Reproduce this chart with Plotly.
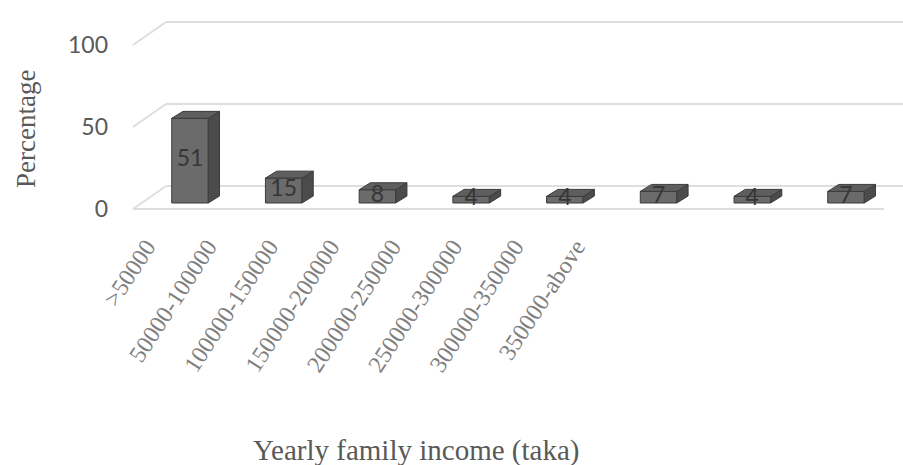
import plotly.graph_objects as go

# ---------------- data ----------------
categories = [">50000", "50000-100000", "100000-150000", "150000-200000",
              "200000-250000", "250000-300000", "300000-350000", "350000-above"]
percentages = [51, 15, 8, 4, 4, 7, 4, 7]
y_ticks = [0, 50, 100]

# ---------------- geometry helpers ----------------
W, H = 903, 465
def px(x):
    return x / W
def py(y):
    return 1 - y / H

S = 1.64          # pixels per percentage unit on the walls
SB = 1.66         # pixels per unit for the bars
FRONT_ZERO = 209  # pixel row of the front floor edge
BACK_ZERO = 186   # pixel row of the back wall floor
BAR_ZERO = 203    # pixel row of the bar bases
DEPTH = (FRONT_ZERO - BACK_ZERO) / S

front_range = [-(H - FRONT_ZERO) / S, FRONT_ZERO / S]
back_range = [-(H - BACK_ZERO) / S, BACK_ZERO / S]
bar_range = [-(H - BAR_ZERO) / SB, BAR_ZERO / SB]

idx = list(range(len(categories)))
BW = 0.39    # bar width (category units)
DX = 0.12    # 3D depth offset, x (category units)
DY = 4.2     # 3D depth offset, y (value units)

FRONT_COL = "#6b6b6b"
SIDE_COL = "#4b4b4b"
TOP_COL = "#5e5e5e"
EDGE_COL = "#3c3c3c"
GRID_COL = "#dedede"

fig = go.Figure()

# invisible trace so the front subplot exists
fig.add_trace(go.Scatter(x=[0, 1], y=[0, 0], mode="markers", marker=dict(opacity=0),
                         hoverinfo="skip", showlegend=False, xaxis="x", yaxis="y"))
# invisible trace so the back-wall subplot exists
fig.add_trace(go.Scatter(x=[0, 1], y=[0, 0], mode="markers", marker=dict(opacity=0),
                         hoverinfo="skip", showlegend=False, xaxis="x2", yaxis="y2"))

# front faces
fig.add_trace(go.Bar(x=idx, y=percentages, width=BW, xaxis="x3", yaxis="y3",
                     marker=dict(color=FRONT_COL, line=dict(color=EDGE_COL, width=1)),
                     showlegend=False, hovertext=categories, hoverinfo="text+y"))

# side faces
sx, sy = [], []
for i, v in zip(idx, percentages):
    r = i + BW / 2
    sx += [r, r + DX, r + DX, r, r, None]
    sy += [0, DY, v + DY, v, 0, None]
fig.add_trace(go.Scatter(x=sx, y=sy, mode="lines", fill="toself", fillcolor=SIDE_COL,
                         line=dict(color=EDGE_COL, width=1), hoverinfo="skip",
                         showlegend=False, xaxis="x3", yaxis="y3"))

# top faces
tx, ty = [], []
for i, v in zip(idx, percentages):
    l, r = i - BW / 2, i + BW / 2
    tx += [l, r, r + DX, l + DX, l, None]
    ty += [v, v, v + DY, v + DY, v, None]
fig.add_trace(go.Scatter(x=tx, y=ty, mode="lines", fill="toself", fillcolor=TOP_COL,
                         line=dict(color=EDGE_COL, width=1), hoverinfo="skip",
                         showlegend=False, xaxis="x3", yaxis="y3"))

# data labels
fig.add_trace(go.Scatter(x=idx, y=[v / 2 for v in percentages], mode="text",
                         text=[str(v) for v in percentages], textposition="middle center",
                         textfont=dict(family="Lato", size=23, color="#363636"),
                         hoverinfo="skip", showlegend=False, xaxis="x3", yaxis="y3"))

# category label axis carrier
fig.add_trace(go.Scatter(x=categories, y=percentages, mode="markers", marker=dict(opacity=0),
                         hoverinfo="skip", showlegend=False, xaxis="x4", yaxis="y3"))

# slanted wall edges on the left side
shapes = []
for v in y_ticks:
    shapes.append(dict(type="line", xref="paper", yref="y",
                       x0=px(133), y0=v, x1=px(166), y1=v + DEPTH,
                       line=dict(color=GRID_COL, width=2), layer="below"))

hidden = dict(showgrid=False, zeroline=False, showticklabels=False, showline=False,
              ticks="", fixedrange=True, automargin=False)

fig.update_layout(
    width=W, height=H,
    margin=dict(l=0, r=0, t=0, b=0, pad=0, autoexpand=False),
    paper_bgcolor="white",
    plot_bgcolor="rgba(0,0,0,0)",
    showlegend=False,
    shapes=shapes,
    xaxis=dict(domain=[px(133), px(884)], range=[0, 1], **hidden),
    yaxis=dict(domain=[0, 1], range=front_range, anchor="x",
               tickvals=y_ticks, showgrid=False, zeroline=True,
               zerolinecolor=GRID_COL, zerolinewidth=2, showline=False, ticks="",
               ticklabelstandoff=24, fixedrange=True, automargin=False,
               tickfont=dict(family="Lato", size=23, color="#595959")),
    xaxis2=dict(domain=[px(166), 1], range=[0, 1], anchor="y2", **hidden),
    yaxis2=dict(domain=[0, 1], range=back_range, anchor="x2", tickvals=y_ticks,
                showgrid=True, gridcolor=GRID_COL, gridwidth=2, zeroline=False,
                showticklabels=False, showline=False, ticks="", fixedrange=True,
                automargin=False),
    xaxis3=dict(domain=[px(190 - 46.85), px(846 + 46.85)], range=[-0.5, 7.5],
                anchor="y3", **hidden),
    yaxis3=dict(domain=[0, 1], range=bar_range, anchor="x3", **hidden),
    xaxis4=dict(domain=[px(118.4), px(604)], type="category", anchor="free",
                position=py(227), showgrid=False, zeroline=False, showline=False,
                ticks="", tickangle=-57, fixedrange=True, automargin=False,
                tickfont=dict(family="Liberation Serif", size=24, color="#7f7f7f")),
    annotations=[
        dict(text="Percentage", xref="paper", yref="paper", x=px(26), y=py(129),
             xanchor="center", yanchor="middle", textangle=-90, showarrow=False,
             font=dict(family="Liberation Serif", size=27, color="#595959")),
        dict(text="Yearly family income (taka)", xref="paper", yref="paper",
             x=px(416), y=py(450), xanchor="center", yanchor="middle", showarrow=False,
             font=dict(family="Liberation Serif", size=29, color="#595959")),
    ],
)

fig.write_html("out.html",
               config={"displayModeBar": False},
               post_script="document.body.style.margin='0';"
                           "document.body.style.overflow='hidden';")
